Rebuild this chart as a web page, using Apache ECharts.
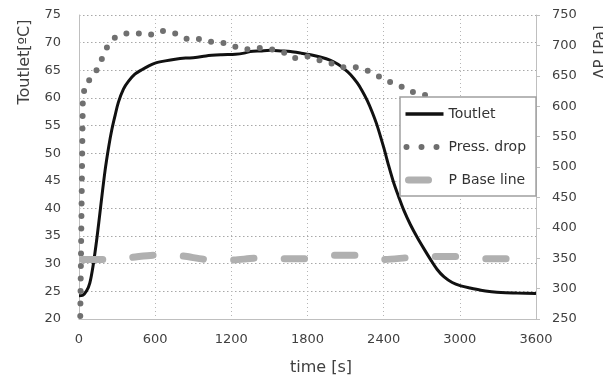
<!DOCTYPE html>
<html>
<head>
<meta charset="utf-8">
<script src="https://cdn.jsdelivr.net/npm/echarts@6/dist/echarts.min.js"></script>
<style>
  html, body { margin: 0; padding: 0; background: #fff; }
  #chart { width: 603px; height: 380px; }
</style>
</head>
<body>
<div id="chart"></div>
<script>
// time [s], value pairs
const toutlet = [
  [0, 24.2], [30, 24.3], [60, 25.1], [85, 26.5], [110, 29.5], [142, 34.8], [170, 40.2],
  [205, 46.8], [235, 51.3], [258, 54.2], [285, 56.9], [310, 59.2], [350, 61.6], [389, 63],
  [440, 64.3], [495, 65.1], [550, 65.8], [600, 66.3], [680, 66.7], [758, 67], [840, 67.2],
  [916, 67.3], [1000, 67.6], [1126, 67.8], [1232, 67.9], [1300, 68.1], [1350, 68.4],
  [1430, 68.5], [1508, 68.6], [1590, 68.5], [1666, 68.4], [1750, 68.1], [1824, 67.8],
  [1900, 67.4], [1982, 66.8], [2040, 66.1], [2087, 65.3], [2140, 64.2], [2192, 62.7],
  [2230, 61.3], [2271, 59.5], [2310, 57.4], [2350, 54.9], [2402, 50.9], [2440, 47.7],
  [2481, 44.5], [2520, 42], [2560, 39.6], [2610, 37.1], [2666, 34.7], [2720, 32.6],
  [2771, 30.7], [2820, 29], [2876, 27.6], [2940, 26.6], [3008, 26], [3080, 25.6],
  [3166, 25.2], [3250, 24.95], [3324, 24.8], [3450, 24.7], [3600, 24.6]
];
const pressDrop = [
  [10, 255], [30, 610], [47, 635], [90, 645], [126, 654], [174, 675], [218, 696],
  [260, 708], [290, 714], [381, 720], [458, 720], [557, 717], [653, 724], [752, 720],
  [858, 710], [937, 711], [1031, 706], [1126, 705], [1210, 699], [1310, 693], [1415, 696],
  [1508, 694], [1600, 690], [1692, 679], [1797, 682], [1889, 676], [1982, 671],
  [2074, 664], [2166, 665], [2266, 659], [2363, 649], [2423, 642], [2515, 635],
  [2618, 624], [2718, 619], [2800, 612]
];
const pBase = [
  [0, 348], [200, 348], [400, 351], [600, 355], [800, 354], [1000, 348], [1200, 347],
  [1400, 350], [1600, 349], [1800, 349], [2000, 355], [2200, 355], [2400, 348],
  [2600, 351], [2800, 353], [3000, 353], [3200, 349], [3400, 349], [3600, 350]
];
const seriesNames = ['Toutlet', 'Press. drop', 'P Base line'];
const timeRange = [0, 3600, 600];
const tempRange = [20, 75, 5];
const pressRange = [250, 750, 50];

const FONT = "'DejaVu Sans', sans-serif";
const TXT = '#404040';
const plain = v => String(v);

const chart = echarts.init(document.getElementById('chart'));
chart.setOption({
  animation: false,
  grid: { left: 79, right: 67, top: 15, bottom: 61 },
  xAxis: {
    type: 'value',
    min: timeRange[0], max: timeRange[1], interval: timeRange[2],
    axisLine: { lineStyle: { color: '#bfbfbf', width: 1 } },
    axisTick: { show: false },
    axisLabel: { color: TXT, fontSize: 13, fontFamily: FONT, margin: 14, formatter: plain },
    splitLine: { lineStyle: { color: '#b5b5b5', type: [1, 3] } }
  },
  yAxis: [
    {
      type: 'value', position: 'left',
      min: tempRange[0], max: tempRange[1], interval: tempRange[2],
      axisLine: { show: true, lineStyle: { color: '#bfbfbf', width: 1 } },
      axisTick: { show: false },
      axisLabel: { color: TXT, fontSize: 13, fontFamily: FONT, margin: 18, formatter: plain },
      splitLine: { lineStyle: { color: '#a8a8a8', type: [1.5, 2.5] } }
    },
    {
      type: 'value', position: 'right',
      min: pressRange[0], max: pressRange[1], interval: pressRange[2],
      axisLine: { show: true, lineStyle: { color: '#bfbfbf', width: 1 } },
      axisTick: { show: true, length: 4, lineStyle: { color: '#bfbfbf' } },
      axisLabel: { color: TXT, fontSize: 13, fontFamily: FONT, margin: 16, formatter: plain },
      splitLine: { show: false }
    }
  ],
  legend: {
    orient: 'vertical',
    left: 400, top: 97,
    padding: [10, 10, 9, 2],
    itemWidth: 38, itemHeight: 14, itemGap: 19,
    itemStyle: { opacity: 0 },
    backgroundColor: '#fff',
    borderColor: '#a0a0a0', borderWidth: 1.5,
    selectedMode: false,
    textStyle: { color: '#333', fontSize: 14, fontFamily: FONT },
    data: [
      { name: seriesNames[0], lineStyle: { color: '#111', width: 3.5 } },
      { name: seriesNames[1], lineStyle: { color: '#6e6e6e', width: 6, type: [0, 15], dashOffset: -1, cap: 'round' } },
      { name: seriesNames[2], lineStyle: { color: '#b0b0b0', width: 7, type: [20, 30], dashOffset: -3, cap: 'round' } }
    ]
  },
  series: [
    {
      name: seriesNames[0], type: 'line', yAxisIndex: 0,
      data: toutlet, symbol: 'none', smooth: 0.3,
      lineStyle: { color: '#111', width: 3 },
      itemStyle: { color: '#111' }
    },
    {
      name: seriesNames[1], type: 'line', yAxisIndex: 1,
      data: pressDrop, symbol: 'none',
      lineStyle: { color: '#707070', width: 6, type: [0, 12.5], cap: 'round' },
      itemStyle: { color: '#707070' }
    },
    {
      name: seriesNames[2], type: 'line', yAxisIndex: 1,
      data: pBase, symbol: 'none', smooth: 0.3,
      lineStyle: { color: '#b0b0b0', width: 7, type: [20, 30.6], dashOffset: -3.5, cap: 'round' },
      itemStyle: { color: '#b0b0b0' }
    }
  ],
  graphic: [
    {
      type: 'text', x: 25, y: 62, rotation: Math.PI / 2,
      style: { text: 'Toutlet[ºC]', fill: TXT, font: "16px 'DejaVu Sans', sans-serif", align: 'center', verticalAlign: 'middle' }
    },
    {
      type: 'text', x: 601, y: 52, rotation: Math.PI / 2,
      style: { text: 'ΔP [Pa]', fill: TXT, font: "15px 'DejaVu Sans', sans-serif", align: 'center', verticalAlign: 'middle' }
    },
    {
      type: 'text', x: 321, y: 368,
      style: { text: 'time [s]', fill: TXT, font: "16px 'DejaVu Sans', sans-serif", align: 'center', verticalAlign: 'middle' }
    }
  ]
});
</script>
</body>
</html>
